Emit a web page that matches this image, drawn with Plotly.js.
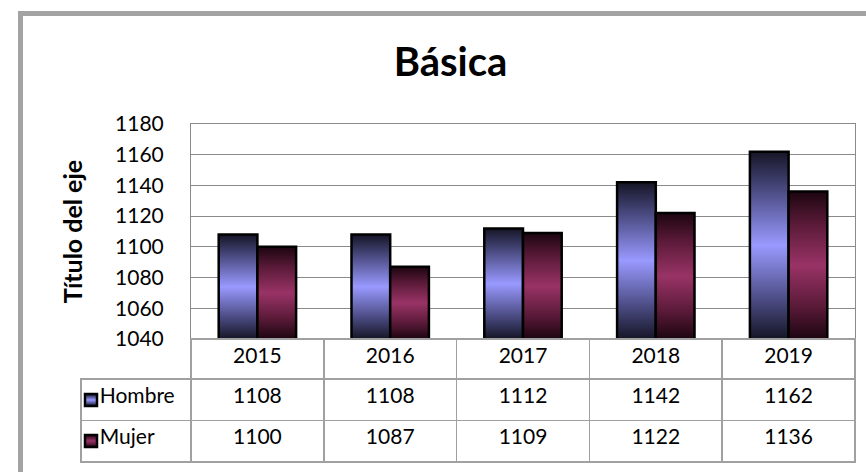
<!DOCTYPE html>
<html><head><meta charset="utf-8">
<script src="https://cdn.plot.ly/plotly-3.0.1.min.js"></script>
<style>html,body{margin:0;padding:0;background:#fff;} #chart{width:866px;height:472px;position:relative;}</style>
</head><body><div id="chart"></div>
<script>
const years = ['2015', '2016', '2017', '2018', '2019'];
const seriesNames = ['Hombre', 'Mujer'];
const hombre = [1108, 1108, 1112, 1142, 1162];
const mujer = [1100, 1087, 1109, 1122, 1136];
const yTicks = [1040, 1060, 1080, 1100, 1120, 1140, 1160, 1180];
const chartTitle = 'Básica';
const yTitle = 'Título del eje';

const W = 866, H = 472;
const px = v => v / W, py = v => 1 - v / H;
const FONT = 'Lato, "Open Sans", sans-serif';
const GRID = '#8a8a8a', TLINE = '#a0a0a0';

const colW = 132.8;
const traces = [
  {type: 'bar', name: seriesNames[0], x: years, y: hombre, legend: 'legend',
   marker: {color: '#9999ff', line: {color: '#000', width: 2.5}}},
  {type: 'bar', name: seriesNames[1], x: years, y: mujer, legend: 'legend2',
   marker: {color: '#993366', line: {color: '#000', width: 2.5}}},
  {type: 'table',
   domain: {x: [px(81), px(855)], y: [py(465), py(339)]},
   columnwidth: [110].concat(years.map(() => colW)),
   header: {
     values: [''].concat(years),
     height: 40, align: 'center',
     fill: {color: ['rgba(0,0,0,0)'].concat(years.map(() => '#fff'))},
     line: {color: ['rgba(0,0,0,0)'].concat(years.map(() => TLINE)), width: 1.5},
     font: {family: FONT, size: 21, color: '#000'}
   },
   cells: {
     values: [seriesNames.map(n => '\u00a0\u00a0' + n)].concat(years.map((y, i) => [hombre[i], mujer[i]])),
     height: 41.5,
     align: ['left'].concat(years.map(() => 'center')),
     fill: {color: '#fff'},
     line: {color: TLINE, width: 1.5},
     font: {family: FONT, size: 21, color: '#000'}
   }
  }
];

const legendBase = {xanchor: 'left', yanchor: 'middle', bgcolor: 'rgba(0,0,0,0)', borderwidth: 0,
  font: {size: 10, color: 'rgba(0,0,0,0)'}};

const layout = {
  width: W, height: H,
  margin: {l: 0, r: 0, t: 0, b: 0},
  paper_bgcolor: '#fff', plot_bgcolor: '#fff',
  font: {family: FONT, color: '#000'},
  title: {text: chartTitle, x: px(450.5), xanchor: 'center', xref: 'paper',
          y: py(62), yanchor: 'middle', yref: 'paper',
          font: {family: FONT, size: 40, weight: 700, color: '#000'}},
  barmode: 'group', bargap: 0.417, bargroupgap: 0,
  xaxis: {domain: [px(191), px(855)], type: 'category', showticklabels: false, ticks: '',
          showline: true, mirror: true, linecolor: GRID, linewidth: 1, showgrid: false, fixedrange: true},
  yaxis: {domain: [py(339), py(124)], range: [1040, 1180], tickvals: yTicks, ticks: '',
          showgrid: true, gridcolor: GRID, gridwidth: 1, zeroline: false,
          showline: true, mirror: true, linecolor: GRID, linewidth: 1,
          ticklabelstandoff: 22, tickfont: {family: FONT, size: 21, color: '#000'},
          title: {text: yTitle, standoff: 25, font: {family: FONT, size: 25, weight: 700, color: '#000'}},
          fixedrange: true},
  legend: Object.assign({x: px(71), y: py(400)}, legendBase),
  legend2: Object.assign({x: px(71), y: py(441)}, legendBase),
  shapes: [
    {type: 'rect', xref: 'paper', yref: 'paper', x0: px(20.5), x1: px(920), y0: py(13.5), y1: py(520),
     line: {color: '#a3a3a3', width: 5}, fillcolor: 'rgba(0,0,0,0)', layer: 'above'}
  ],
  showlegend: true
};

const palette = {};
palette[seriesNames[0]] = ['#151526', '#4e4e88', '#9999ff'];
palette[seriesNames[1]] = ['#1c0510', '#5a1a38', '#993366'];

const gd = document.getElementById('chart');
Plotly.newPlot(gd, traces, layout, {staticPlot: true, displayModeBar: false}).then(() => {
  const NS = 'http://www.w3.org/2000/svg';
  const svg = gd.querySelector('svg.main-svg');
  let defs = svg.querySelector('defs');
  if (!defs) { defs = document.createElementNS(NS, 'defs'); svg.insertBefore(defs, svg.firstChild); }
  let gcount = 0;
  function grad(cols, box) {
    const id = 'grad' + (gcount++);
    const g = document.createElementNS(NS, 'linearGradient');
    g.setAttribute('id', id);
    if (box) {
      g.setAttribute('gradientUnits', 'userSpaceOnUse');
      g.setAttribute('x1', 0); g.setAttribute('x2', 0);
      g.setAttribute('y1', box[0]); g.setAttribute('y2', box[1]);
    } else {
      g.setAttribute('x1', '0'); g.setAttribute('y1', '0'); g.setAttribute('x2', '0'); g.setAttribute('y2', '1');
    }
    [[0, cols[0]], [0.22, cols[1]], [0.5, cols[2]], [0.78, cols[1]], [1, cols[0]]].forEach(([o, c]) => {
      const s = document.createElementNS(NS, 'stop');
      s.setAttribute('offset', o); s.setAttribute('stop-color', c); g.appendChild(s);
    });
    defs.appendChild(g);
    return 'url(#' + id + ')';
  }
  const plotH = gd._fullLayout.yaxis._length;
  gd.querySelectorAll('g.trace.bars').forEach(tr => {
    const t = tr.__data__ && tr.__data__[0] && tr.__data__[0].trace;
    if (!t || !palette[t.name]) return;
    tr.querySelectorAll('path').forEach(p => {
      const nums = (p.getAttribute('d') || '').match(/-?\d+(\.\d+)?/g);
      if (!nums || nums.length < 4) return;
      const ya = parseFloat(nums[1]), yb = parseFloat(nums[2]);
      const top = Math.max(0, Math.min(ya, yb)), bot = Math.min(plotH, Math.max(ya, yb));
      p.style.fill = grad(palette[t.name], [top, bot]);
    });
  });
  gd.querySelectorAll('g.traces').forEach(tr => {
    const d = tr.__data__;
    const t = d && d[0] && d[0].trace;
    if (!t || !palette[t.name]) return;
    tr.querySelectorAll('.legendpoints path').forEach(p => { p.style.fill = grad(palette[t.name]); });
  });
  // legend entries serve only as colour keys; the row labels live in the data table
  gd.querySelectorAll('g.traces text').forEach(e => e.remove());
});
</script>
</body></html>
